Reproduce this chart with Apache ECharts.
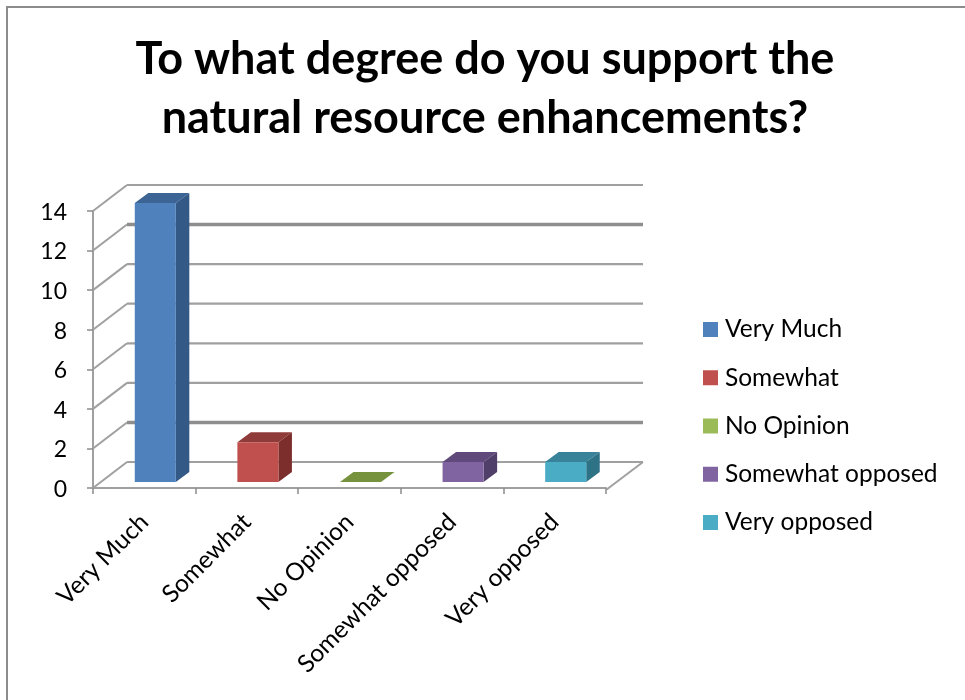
<!DOCTYPE html>
<html>
<head>
<meta charset="utf-8">
<style>html,body{margin:0;padding:0;background:#fff}#c{width:965px;height:700px}</style>
<script src="https://cdn.jsdelivr.net/npm/echarts@6/dist/echarts.min.js"></script>
</head>
<body>
<div id="c"></div>
<script>
const titleText = 'To what degree do you support the\nnatural resource enhancements?';
const categories = ['Very Much', 'Somewhat', 'No Opinion', 'Somewhat opposed', 'Very opposed'];
const values = [14, 2, 0, 1, 1];
const yTicks = [0, 2, 4, 6, 8, 10, 12, 14];
const frontColors = ['#4f81bd', '#c0504d', '#9bbb59', '#8064a2', '#4bacc6'];
const topColors = ['#3c6494', '#8f3b39', '#76923c', '#604a7b', '#38829a'];
const sideColors = ['#335a87', '#7c2e2c', '#5f7730', '#503f68', '#2e7286'];

const FONT = 'Lato, "Open Sans", sans-serif';
const GRID = '#a0a0a0';
const WALL = {dx: 34, dy: -26, right: 37};
const BAR = {dx: 11, dy: -6, depthX: 13.5, depthY: -10, share: 0.4, stretch: 1.007};
const heavy = [2, 12];

function renderWall(params, api) {
  const v = api.value(0);
  const cs = params.coordSys;
  const y = api.coord([0, v])[1];
  const backY = y + WALL.dy;
  const backX = cs.x + WALL.dx;
  const children = [
    {type: 'line', shape: {x1: cs.x, y1: y, x2: backX, y2: backY},
     style: {stroke: GRID, lineWidth: 2}},
    {type: 'line', shape: {x1: backX, y1: backY, x2: cs.x + cs.width + WALL.right, y2: backY},
     style: {stroke: heavy.includes(v) ? '#8e8e8e' : GRID, lineWidth: heavy.includes(v) ? 3.4 : 2.2}}
  ];
  if (v === 0) {
    children.push({
      type: 'line',
      shape: {x1: cs.x + cs.width, y1: y + 2, x2: cs.x + cs.width + WALL.right, y2: backY},
      style: {stroke: GRID, lineWidth: 2}
    });
  }
  return {type: 'group', children};
}

function renderBar(idx) {
  return function (params, api) {
    const top = api.coord([api.value(0), api.value(1)]);
    const base = api.coord([api.value(0), 0]);
    const w = api.size([1, 0])[0] * BAR.share;
    const l = top[0] - w / 2 + BAR.dx, r = l + w;
    const b = base[1] + BAR.dy;
    const t = b - (base[1] - top[1]) * BAR.stretch;
    const ox = BAR.depthX, oy = BAR.depthY;
    const children = [];
    children.push({type: 'polygon', shape: {points: [[l, t], [r, t], [r + ox, t + oy], [l + ox, t + oy]]},
      style: {fill: topColors[idx]}});
    if (b > t) {
      children.push({type: 'polygon', shape: {points: [[r, t], [r + ox, t + oy], [r + ox, b + oy], [r, b]]},
        style: {fill: sideColors[idx]}});
      children.push({type: 'rect', shape: {x: l, y: t, width: w, height: b - t},
        style: {fill: frontColors[idx]}});
    }
    return {type: 'group', children};
  };
}

const chart = echarts.init(document.getElementById('c'), null, {renderer: 'canvas'});
chart.setOption({
  animation: false,
  backgroundColor: '#fff',
  title: {
    text: titleText, left: 480, top: 25, textAlign: 'center',
    textStyle: {fontFamily: FONT, fontWeight: 'bold', fontSize: 45, lineHeight: 59, color: '#000'}
  },
  graphic: [{
    type: 'rect', shape: {x: 7, y: 7, width: 1000, height: 1000},
    style: {fill: null, stroke: '#8c8c8c', lineWidth: 2}, silent: true, z: -1
  }],
  grid: {left: 93, right: 359, top: 211, bottom: 212},
  legend: {
    orient: 'vertical', left: 698, top: 312, itemWidth: 15, itemHeight: 15, itemGap: 23.25,
    icon: 'rect', data: categories, selectedMode: false,
    textStyle: {fontFamily: FONT, fontSize: 24.5, color: '#000', padding: [0, 0, 0, 2]}
  },
  xAxis: {
    type: 'category', data: categories, offset: 2,
    axisLine: {show: true, lineStyle: {color: GRID, width: 2}},
    axisTick: {show: true, alignWithLabel: false, length: 6, lineStyle: {color: '#8c8c8c', width: 1.5}},
    axisLabel: {rotate: 45, interval: 0, margin: 28, fontFamily: FONT, fontSize: 24.5, color: '#000'},
    splitLine: {show: false}
  },
  yAxis: {
    type: 'value', min: 0, max: 14, interval: 2,
    axisLine: {show: true, lineStyle: {color: GRID, width: 2}},
    axisTick: {show: true, length: 6, lineStyle: {color: '#8c8c8c', width: 1.5}},
    axisLabel: {margin: 26, verticalAlign: 'bottom', padding: [0, 0, -13, 0], fontFamily: FONT, fontSize: 23, color: '#000'},
    splitLine: {show: false}
  },
  series: [
    {type: 'custom', name: 'walls', silent: true, z: 1, clip: false,
     renderItem: renderWall, data: yTicks.map(v => [v]), encode: {y: 0}},
    ...categories.map((name, i) => ({
      type: 'custom', name, z: 2, clip: false, silent: true,
      itemStyle: {color: frontColors[i]},
      renderItem: renderBar(i),
      data: [[i, values[i]]], encode: {x: 0, y: 1}
    }))
  ]
});
</script>
</body>
</html>
